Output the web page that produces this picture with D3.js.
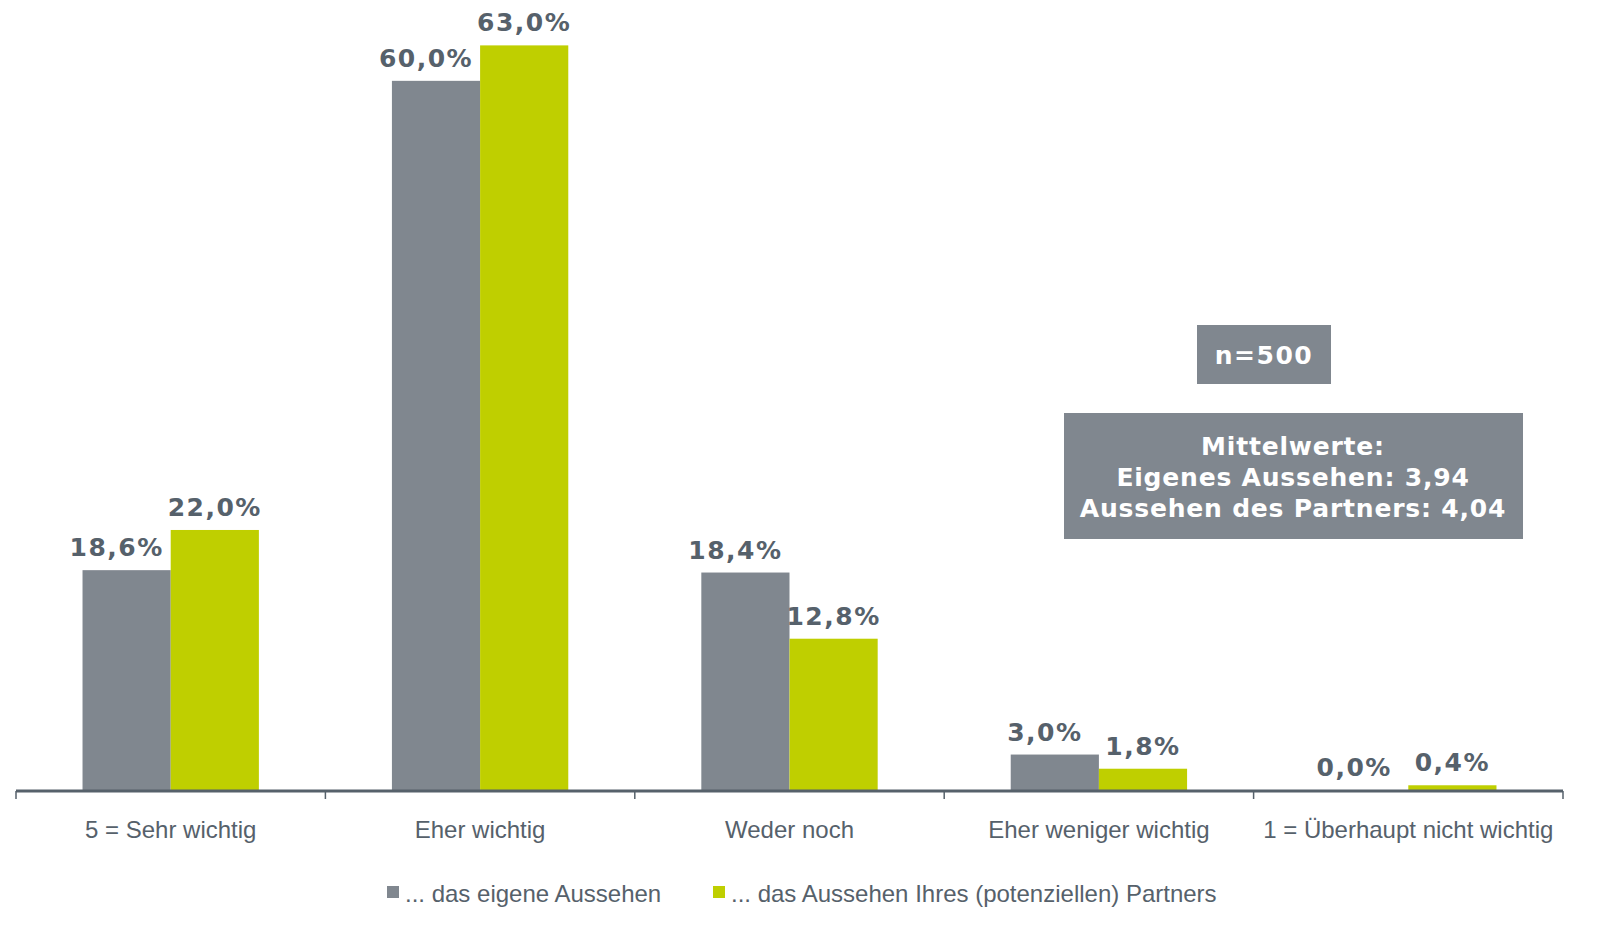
<!DOCTYPE html>
<html>
<head>
<meta charset="utf-8">
<script src="https://cdn.jsdelivr.net/npm/d3@7"></script>
<style>
  html, body { margin: 0; padding: 0; background: #fff; overflow: hidden; }
  svg { display: block; }
</style>
</head>
<body>
<div id="container"></div>
<script>
let categories = ["5 = Sehr wichtig", "Eher wichtig", "Weder noch", "Eher weniger wichtig", "1 = Überhaupt nicht wichtig"];
let seriesNames = ["... das eigene Aussehen", "... das Aussehen Ihres (potenziellen) Partners"];
let eigenes = [18.6, 60.0, 18.4, 3.0, 0.0];
let partner = [22.0, 63.0, 12.8, 1.8, 0.4];
let infoLines = ["Mittelwerte:", "Eigenes Aussehen: 3,94", "Aussehen des Partners: 4,04"];
let sampleText = "n=500";

let colors = ["#80878f", "#bfcf00"];
let textColor = "#56616b";

let svg = d3.select("#container")
    .append("svg")
    .attr("width", 1603)
    .attr("height", 928);

let x = d3.scaleBand()
    .domain(categories)
    .range([16, 1563])
    .paddingInner(0.43)
    .paddingOuter(0.215);

let xSub = d3.scaleBand()
    .domain([0, 1])
    .range([0, x.bandwidth()]);

let y = d3.scaleLinear()
    .domain([0, 66.84])
    .range([790, 0]);

let fmt = v => v.toFixed(1).replace(".", ",") + "%";

let series = [eigenes, partner];
series.forEach((vals, s) => {
    let g = svg.append("g");
    g.selectAll("rect")
        .data(vals)
        .enter()
        .append("rect")
        .attr("x", (_, i) => x(categories[i]) + xSub(s))
        .attr("y", d => y(d))
        .attr("width", xSub.bandwidth())
        .attr("height", d => y(0) - y(d))
        .attr("fill", colors[s]);
    g.selectAll("text")
        .data(vals)
        .enter()
        .append("text")
        .attr("x", (_, i) => x(categories[i]) + xSub(s) + xSub.bandwidth() / 2 + (s === 0 ? -10 : 0))
        .attr("y", d => y(d) - 14)
        .attr("text-anchor", "middle")
        .attr("style", "font-family:'DejaVu Sans';font-weight:bold;font-size:25px;letter-spacing:1.5px")
        .attr("fill", textColor)
        .text(d => fmt(d));
});

// axis
let axis = svg.append("g")
    .attr("transform", "translate(0,791)")
    .call(d3.axisBottom(x).tickSize(0).tickFormat(""));
axis.select(".domain").attr("stroke", textColor).attr("stroke-width", 3).attr("d", "M16,0H1563");
let step = x.step();
let tickPos = d3.range(categories.length + 1).map(i => 16 + i * step);
axis.selectAll(".sep")
    .data(tickPos)
    .enter()
    .append("line")
    .attr("x1", d => d).attr("x2", d => d)
    .attr("y1", 0).attr("y2", 8)
    .attr("stroke", textColor)
    .attr("stroke-width", 1.5);
axis.selectAll(".catlabel")
    .data(categories)
    .enter()
    .append("text")
    .attr("x", d => x(d) + x.bandwidth() / 2)
    .attr("y", 47)
    .attr("text-anchor", "middle")
    .attr("style", "font-family:'Liberation Sans';font-size:24px")
    .attr("fill", textColor)
    .text(d => d);

// legend
let legendX = [387, 713];
let legend = svg.append("g");
seriesNames.forEach((name, i) => {
    legend.append("rect")
        .attr("x", legendX[i]).attr("y", 886)
        .attr("width", 12).attr("height", 12)
        .attr("fill", colors[i]);
    legend.append("text")
        .attr("x", legendX[i] + 18).attr("y", 902)
        .attr("style", "font-family:'Liberation Sans';font-size:24px")
        .attr("fill", textColor)
        .text(name);
});

// info boxes
svg.append("rect")
    .attr("x", 1197).attr("y", 325).attr("width", 134).attr("height", 59)
    .attr("fill", "#80878f");
svg.append("text")
    .attr("x", 1264).attr("y", 364)
    .attr("text-anchor", "middle")
    .attr("style", "font-family:'DejaVu Sans';font-weight:bold;font-size:25px;letter-spacing:1.5px")
    .attr("fill", "#fff")
    .text(sampleText);

svg.append("rect")
    .attr("x", 1064).attr("y", 413).attr("width", 459).attr("height", 126)
    .attr("fill", "#80878f");
svg.append("g")
    .selectAll("text")
    .data(infoLines)
    .enter()
    .append("text")
    .attr("x", 1293)
    .attr("y", (_, i) => 455 + i * 31)
    .attr("text-anchor", "middle")
    .attr("style", "font-family:'DejaVu Sans';font-weight:bold;font-size:25px;letter-spacing:0.8px")
    .attr("fill", "#fff")
    .text(d => d);
</script>
</body>
</html>
